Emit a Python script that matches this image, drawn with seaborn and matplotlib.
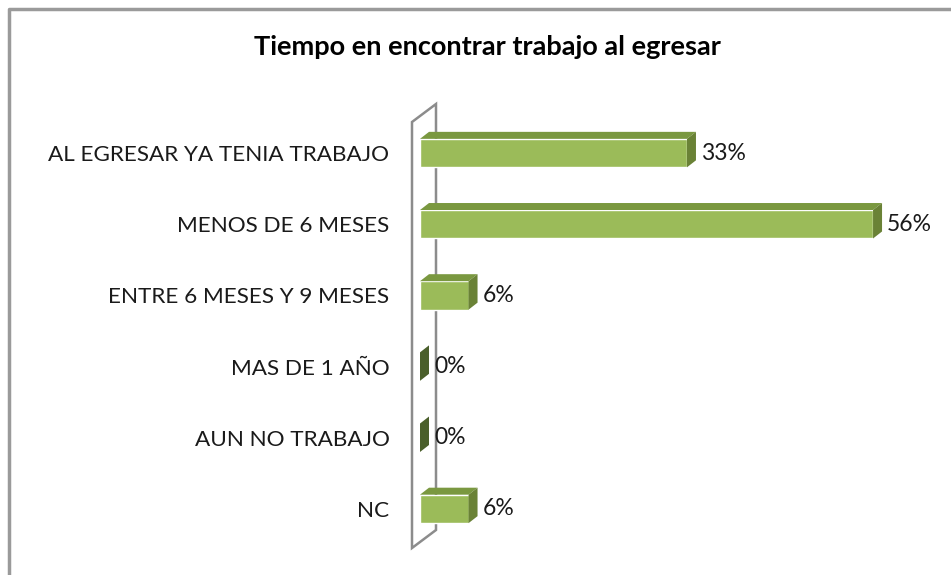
import seaborn as sns
import matplotlib.pyplot as plt
import matplotlib.patches as mpatches
import pandas as pd

categorias = ["AL EGRESAR YA TENIA TRABAJO", "MENOS DE 6 MESES", "ENTRE 6 MESES Y 9 MESES",
              "MAS DE 1 AÑO", "AUN NO TRABAJO", "NC"]
porcentajes = [33, 56, 6, 0, 0, 6]
etiquetas = ["33%", "56%", "6%", "0%", "0%", "6%"]
titulo = "Tiempo en encontrar trabajo al egresar"

df = pd.DataFrame({"cat": categorias, "pct": porcentajes})

sns.set_style("white")
plt.rcParams["font.family"] = ["Lato", "DejaVu Sans"]

W, H = 951, 575
fig = plt.figure(figsize=(W / 100, H / 100), dpi=100)

# marco exterior del grafico
frame = fig.add_axes([0, 0, 1, 1])
frame.set_xlim(0, W)
frame.set_ylim(H, 0)
frame.axis("off")
frame.plot([9, 9, W + 5], [H + 5, 9, 9], color="#9a9a9a", lw=2.5)

# zona de barras: x=0 en px 420, 8.09 px por punto porcentual
x0, px_pct = 420, 8.09
xmax = 63
ax = fig.add_axes([x0 / W, 1 - 544.5 / H, xmax * px_pct / W, (544.5 - 117.5) / H])
ax.patch.set_alpha(0)
sns.barplot(data=df, y="cat", x="pct", orient="h", color="#9bbb59", width=0.4,
            saturation=1, ax=ax, zorder=3)
ax.set_xlim(0, xmax)
ax.set_ylim(5.5, -0.5)
sns.despine(ax=ax, left=True, bottom=True)
ax.set_xticks([])
ax.set_xlabel("")
ax.set_ylabel("")
ax.set_yticks(range(len(categorias)))
ax.set_yticklabels(categorias, fontsize=16.2, color="#1a1a1a")
ax.tick_params(axis="y", length=0, pad=22)

# profundidad 3D en unidades de datos
dx = 9 / px_pct
dy = 7 / 71.2
for p, v in zip(ax.patches, porcentajes):
    xr = p.get_x() + p.get_width()
    yt = p.get_y()
    yb = p.get_y() + p.get_height()
    top = mpatches.Polygon([(0, yt), (xr, yt), (xr + dx, yt - dy), (dx, yt - dy)],
                           closed=True, facecolor="#7a9840", edgecolor="none", zorder=3)
    side_col = "#6a8236" if v > 0 else "#4a5f2b"
    side = mpatches.Polygon([(xr, yt), (xr + dx, yt - dy), (xr + dx, yb - dy), (xr, yb)],
                            closed=True, facecolor=side_col, edgecolor="none", zorder=3)
    ax.add_patch(top)
    ax.add_patch(side)

for i, (v, t) in enumerate(zip(porcentajes, etiquetas)):
    ax.text(v + dx + 5 / px_pct, i, t, va="center", ha="left", fontsize=16.5, color="#1a1a1a")

# pared lateral 3D
wall = mpatches.Polygon([(412, 122), (436, 104), (436, 530), (412, 548)], closed=True,
                        facecolor="white", edgecolor="#8c8c8c", lw=1.8, zorder=1)
frame.add_patch(wall)

fig.text(487 / W, 1 - 47 / H, titulo, ha="center", va="center", fontsize=19.5,
         fontweight="bold", color="black")

fig.savefig("out.png", dpi=100)
